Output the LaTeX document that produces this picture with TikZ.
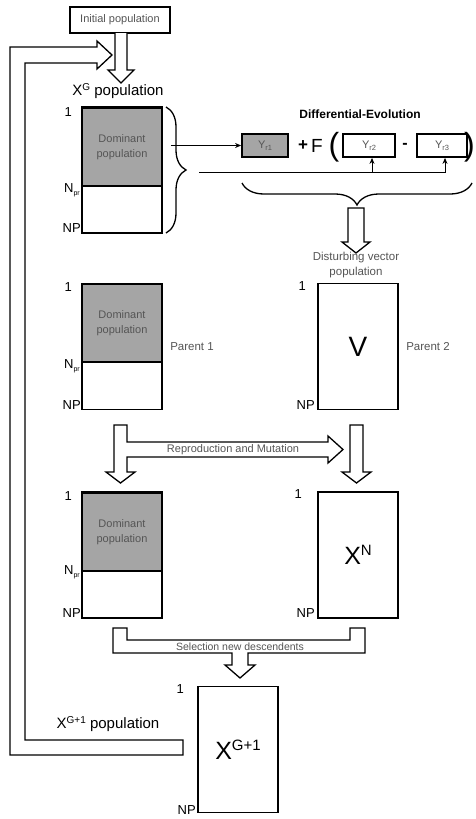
\documentclass[tikz,border=0pt]{standalone}
\usepackage{fontspec}
\setmainfont{Liberation Sans}
\usetikzlibrary{decorations.pathreplacing,arrows.meta}
\definecolor{domgray}{RGB}{165,165,165}
\definecolor{txtgray}{RGB}{85,85,85}
\begin{document}
\begin{tikzpicture}[x=1pt,y=-1pt,
  box/.style={draw, line width=1.8pt, minimum width=80pt, minimum height=126pt, inner sep=0pt},
  dom/.style={draw, line width=1.8pt, fill=domgray, minimum width=80pt, minimum height=78pt, inner sep=0pt, align=center, font=\fontsize{11}{15}\selectfont, text=txtgray},
  lbl/.style={font=\fontsize{13}{13}\selectfont, inner sep=0pt, anchor=east},
  small/.style={font=\fontsize{11.5}{15}\selectfont, text=txtgray, inner sep=0pt},
  hollow/.style={draw, line width=1.3pt, fill=white, line join=miter},
  ybox/.style={draw, line width=1.8pt, minimum height=23pt, inner sep=0pt, font=\fontsize{11}{11}\selectfont, text=txtgray},
  big/.style={font=\fontsize{15}{15}\selectfont, inner sep=0pt},
  bracestyle/.style={line width=1.3pt, decorate},
  thin/.style={line width=1pt, -{Stealth[length=6pt,width=5pt]}}
]
\useasboundingbox[fill=white] (0,0) rectangle (475,819);

% feedback loop arrow
\draw[hollow] (183,740) -- (25,740) -- (25,63) -- (97,63) -- (97,69) -- (112,55) -- (97,41) -- (97,47) -- (10,47) -- (10,755) -- (183,755) -- cycle;

% initial population
\node[draw, line width=1.8pt, minimum width=100pt, minimum height=26pt, inner sep=0pt, font=\fontsize{11}{11}\selectfont, text=txtgray] (init) at (120,20) {Initial population};
\draw[hollow] (115,33) -- (115,70) -- (108,70) -- (121,83) -- (134,70) -- (127,70) -- (127,33);

\node[big] (xg) at (118,91) {X\raisebox{5pt}{\fontsize{10}{10}\selectfont G} population};

% box 1
\node[dom, anchor=north] (d1) at (122,107) {Dominant\\population};
\node[box] (b1) at (122,170) {};
\node[lbl] (b1one) at (72,112) {1};
\node[lbl] (b1npr) at (80,190) {N\raisebox{-3pt}{\fontsize{7}{7}\selectfont pr}};
\node[lbl] (b1np) at (81,228) {NP};
\draw[bracestyle, decoration={brace, amplitude=20pt}] (166,107) -- (166,233);
\coordinate (brtip) at (187,170);

% differential evolution
\node[font=\bfseries\fontsize{12}{12}\selectfont, inner sep=0pt] (detitle) at (360,114) {Differential-Evolution};
\node[ybox, fill=domgray, minimum width=46pt] (yr1) at (265,145.5) {Y\raisebox{-2pt}{\fontsize{7.5}{7.5}\selectfont r1}};
\node[font=\bfseries\fontsize{17}{17}\selectfont, inner sep=0pt] (plus) at (303,146) {+};
\node[font=\fontsize{19}{19}\selectfont, inner sep=0pt] (ff) at (317,146) {F};
\node[font=\fontsize{32}{32}\selectfont, inner sep=0pt] (lpar) at (334,147) {(};
\node[ybox, minimum width=52pt] (yr2) at (369,145.5) {Y\raisebox{-2pt}{\fontsize{7.5}{7.5}\selectfont r2}};
\node[font=\bfseries\fontsize{16}{16}\selectfont, inner sep=0pt] (minus) at (405,146) {-};
\node[ybox, minimum width=50pt] (yr3) at (442,145.5) {Y\raisebox{-2pt}{\fontsize{7.5}{7.5}\selectfont r3}};
\node[font=\fontsize{32}{32}\selectfont, inner sep=0pt, anchor=east] (rpar) at (475,147) {)};

\draw[thin] ([xshift=8pt]b1.east |- yr1.west) -- (yr1.west);
\coordinate (bus) at (199,172);
\draw[thin] (bus) -| ([xshift=3pt]yr3.south);
\draw[thin] ([xshift=3pt]yr2.south |- bus) -- ([xshift=3pt]yr2.south);

\draw[bracestyle, decoration={brace, amplitude=22pt}] (472,183) -- (242,183);
\draw[hollow] (348,208) -- (348,242) -- (342,242) -- (356,253) -- (370,242) -- (364,242) -- (364,208) -- cycle;
\node[small, align=center] (dvp) at (356,265) {Disturbing vector\\population};

% box 2 and V
\node[dom, anchor=north] (d2) at (122,283) {Dominant\\population};
\node[box] (b2) at (122,346.5) {};
\node[lbl] (b2one) at (72,287) {1};
\node[lbl] (b2npr) at (80,366) {N\raisebox{-3pt}{\fontsize{7}{7}\selectfont pr}};
\node[lbl] (b2np) at (81,405) {NP};
\node[small] (par1) at (192,347) {Parent 1};
\node[box, font=\fontsize{28}{28}\selectfont] (bv) at (358,346.5) {V};
\node[lbl] (bvone) at (306,286) {1};
\node[lbl] (bvnp) at (315,405) {NP};
\node[small] (par2) at (428,347) {Parent 2};

% reproduction and mutation
\draw[hollow] (114,425) -- (127,425) -- (127,442) -- (328,442) -- (328,436) -- (343,449.5) -- (328,463) -- (328,457) -- (127,457) -- (127,472) -- (135,472) -- (120.5,483) -- (106,472) -- (114,472) -- cycle;
\draw[hollow] (350,425) -- (363,425) -- (363,472) -- (371,472) -- (356.5,483) -- (342,472) -- (350,472) -- cycle;
\node[small, font=\fontsize{11}{11}\selectfont] (repro) at (233,449.5) {Reproduction and Mutation};

% box 3 and XN
\node[dom, anchor=north] (d3) at (122,492) {Dominant\\population};
\node[box] (b3) at (122,555) {};
\node[lbl] (b3one) at (72,496) {1};
\node[lbl] (b3npr) at (80,572) {N\raisebox{-3pt}{\fontsize{7}{7}\selectfont pr}};
\node[lbl] (b3np) at (81,613) {NP};
\node[box, font=\fontsize{25}{25}\selectfont] (bxn) at (358,555) {X\raisebox{9pt}{\fontsize{15}{15}\selectfont N}};
\node[lbl] (bxnone) at (302,494) {1};
\node[lbl] (bxnnp) at (315,613) {NP};

% selection
\draw[hollow] (113,628) -- (127,628) -- (127,640) -- (350,640) -- (350,628) -- (365,628) -- (365,653) -- (248,653) -- (248,665) -- (255,665) -- (240,678) -- (225,665) -- (232,665) -- (232,653) -- (113,653) -- cycle;
\node[small, font=\fontsize{10.5}{10.5}\selectfont] (sel) at (240,647) {Selection new descendents};

% final
\node[box, font=\fontsize{25}{25}\selectfont] (bf) at (238,749.5) {X\raisebox{9pt}{\fontsize{15}{15}\selectfont G+1}};
\node[lbl] (bfone) at (184,689) {1};
\node[lbl] (bfnp) at (196,810) {NP};
\node[big] (xg1) at (108,724) {X\raisebox{5pt}{\fontsize{10}{10}\selectfont G+1} population};
\end{tikzpicture}
\end{document}
